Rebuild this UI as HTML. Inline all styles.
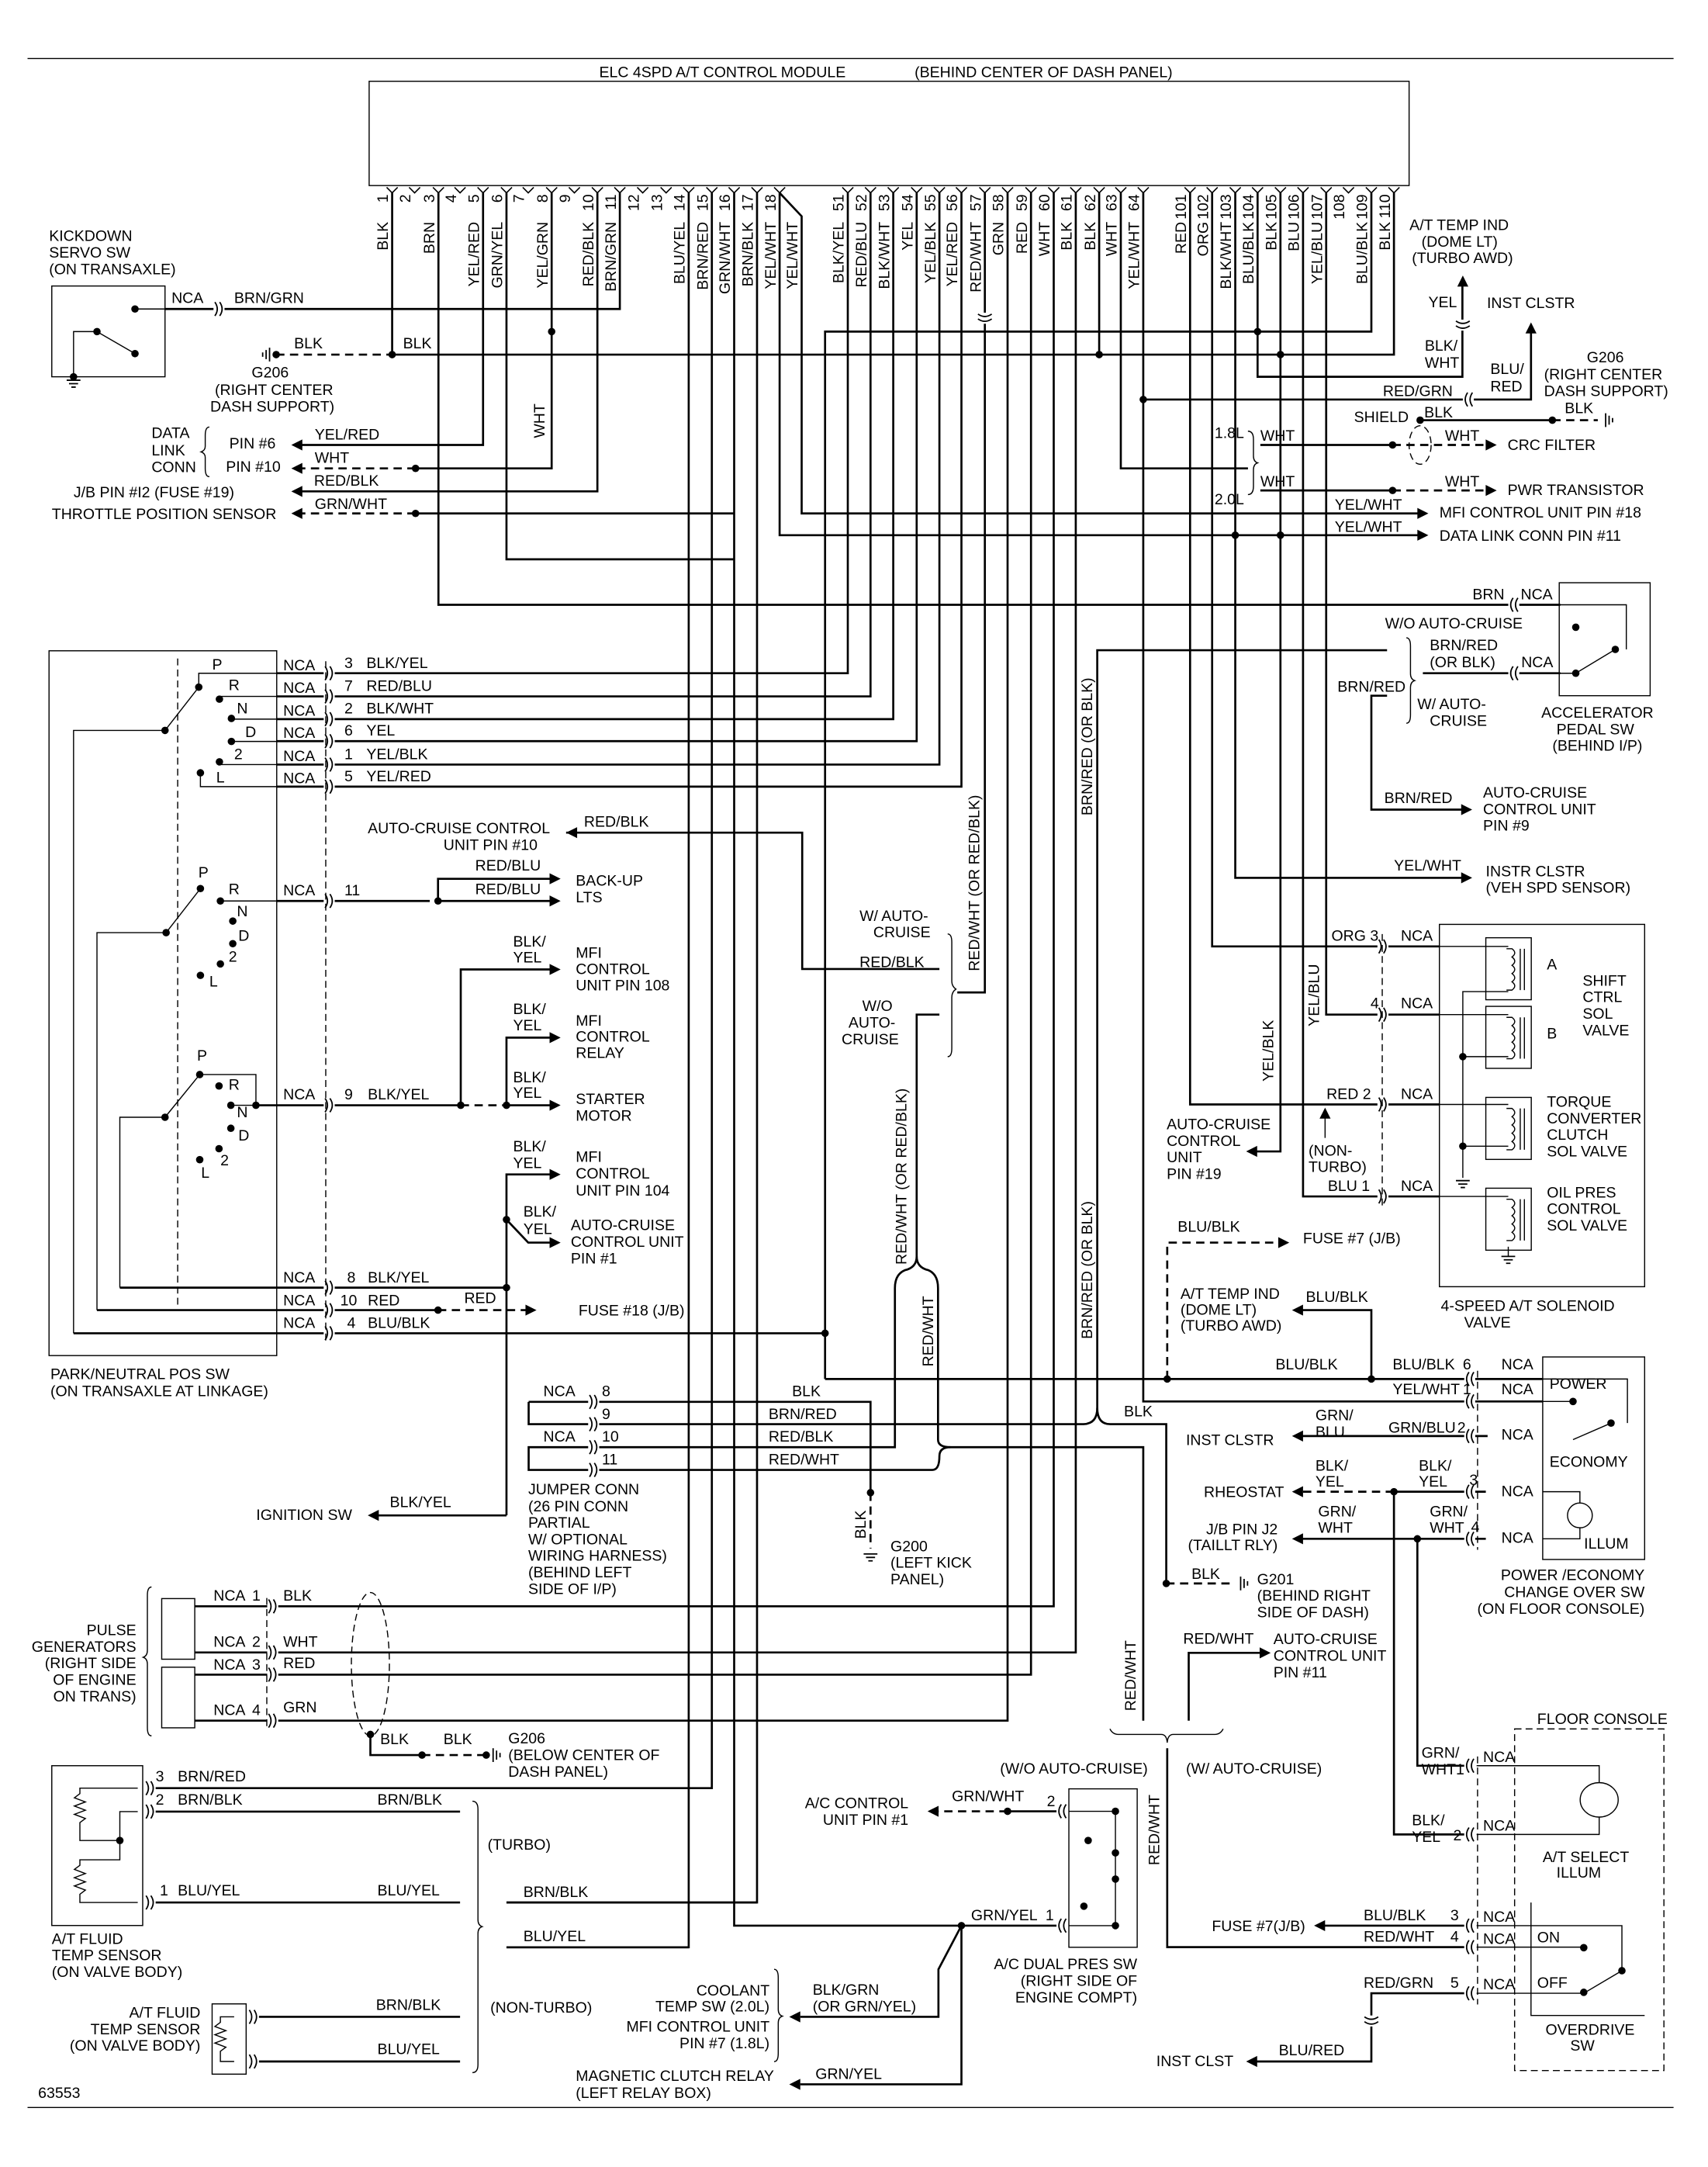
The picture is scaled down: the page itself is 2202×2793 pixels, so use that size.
<!DOCTYPE html>
<html><head><meta charset="utf-8"><style>
html,body{margin:0;padding:0;background:#fff}
svg{display:block}
text{font-family:"Liberation Sans Narrow","Liberation Sans",sans-serif;font-size:11px;fill:#000}
.w{fill:none;stroke:#000;stroke-width:1.5}
.t{fill:none;stroke:#000;stroke-width:0.8}
.d{fill:none;stroke:#000;stroke-width:1.5;stroke-dasharray:6,4}
.dt{fill:none;stroke:#000;stroke-width:0.8;stroke-dasharray:5,3}
.e{text-anchor:end}
</style></head><body>
<svg width="2202" height="2793" viewBox="0 0 1240 1573" preserveAspectRatio="none" xmlns="http://www.w3.org/2000/svg">
<defs>
<g id="cr"><rect x="-1" y="-2" width="8" height="4" fill="#fff"/><path d="M0,-5 q3.5,5 0,10 M3.5,-5 q3.5,5 0,10" fill="none" stroke="#000" stroke-width="1"/></g>
<g id="cl"><rect x="-1" y="-2" width="8" height="4" fill="#fff"/><path d="M6,-5 q-3.5,5 0,10 M2.5,-5 q-3.5,5 0,10" fill="none" stroke="#000" stroke-width="1"/></g>
<g id="cv"><rect x="-2" y="-1" width="4" height="8" fill="#fff"/><path d="M-5,0 q5,3.5 10,0 M-5,3.5 q5,3.5 10,0" fill="none" stroke="#000" stroke-width="1"/></g>
<path id="pv" d="M-4,136 l4,4 l4,-4" fill="none" stroke="#000" stroke-width="0.9"/>
<path id="al" d="M0,0 l8,-4 v8z"/>
<path id="ar" d="M0,0 l-8,-4 v8z"/>
<path id="au" d="M0,0 l-4,8 h8z"/>
<circle id="o" r="2.7"/>
<path id="gd" d="M-5,0 h10 M-3.3,2.5 h6.6 M-1.6,5 h3.2" stroke="#000" stroke-width="1" fill="none"/>
<path id="gs" d="M0,-5 v10 M2.5,-3.3 v6.6 M5,-1.6 v3.2" stroke="#000" stroke-width="1" fill="none"/>
<path id="gsl" d="M0,-5 v10 M-2.5,-3.3 v6.6 M-5,-1.6 v3.2" stroke="#000" stroke-width="1" fill="none"/>
<g id="coil"><rect x="0" y="0" width="33" height="45" class="t"/><path d="M15,8 h4 q4,3 0,6 q4,3 0,6 q4,3 0,6 q4,3 0,6 q4,3 0,6 h-4 M25,8 v30 M28,8 v30" class="t"/></g>
</defs>

<path d="M20,42.5 H1215 M20,1529.8 H1215" class="t"/>
<text x="435" y="56">ELC 4SPD A/T CONTROL MODULE</text>
<text x="664" y="56">(BEHIND CENTER OF DASH PANEL)</text>
<rect x="268" y="59" width="755" height="75.7" class="t"/>

<g>
<use href="#pv" x="284.7"/><use href="#pv" x="301"/><use href="#pv" x="318.3"/><use href="#pv" x="334"/><use href="#pv" x="350.7"/><use href="#pv" x="367.7"/><use href="#pv" x="383.5"/><use href="#pv" x="400.5"/><use href="#pv" x="417"/><use href="#pv" x="433.7"/><use href="#pv" x="450"/><use href="#pv" x="466.6"/><use href="#pv" x="483.6"/><use href="#pv" x="500"/><use href="#pv" x="516.8"/><use href="#pv" x="533"/><use href="#pv" x="549.6"/><use href="#pv" x="566"/>
<use href="#pv" x="615.5"/><use href="#pv" x="632"/><use href="#pv" x="648.5"/><use href="#pv" x="665.5"/><use href="#pv" x="682"/><use href="#pv" x="698"/><use href="#pv" x="715"/><use href="#pv" x="731.5"/><use href="#pv" x="748.5"/><use href="#pv" x="765"/><use href="#pv" x="781"/><use href="#pv" x="798"/><use href="#pv" x="813.7"/><use href="#pv" x="830"/>
<use href="#pv" x="864"/><use href="#pv" x="880"/><use href="#pv" x="896.8"/><use href="#pv" x="913"/><use href="#pv" x="929.6"/><use href="#pv" x="946"/><use href="#pv" x="962.8"/><use href="#pv" x="979"/><use href="#pv" x="995.6"/><use href="#pv" x="1012"/>
</g>
<g class="e">
<text transform="translate(281.7,141) rotate(-90)">1</text><text transform="translate(298,141) rotate(-90)">2</text><text transform="translate(315.3,141) rotate(-90)">3</text><text transform="translate(331,141) rotate(-90)">4</text><text transform="translate(347.7,141) rotate(-90)">5</text><text transform="translate(364.7,141) rotate(-90)">6</text><text transform="translate(380.5,141) rotate(-90)">7</text><text transform="translate(397.5,141) rotate(-90)">8</text><text transform="translate(414,141) rotate(-90)">9</text><text transform="translate(430.7,141) rotate(-90)">10</text><text transform="translate(447,141) rotate(-90)">11</text><text transform="translate(463.6,141) rotate(-90)">12</text><text transform="translate(480.6,141) rotate(-90)">13</text><text transform="translate(497,141) rotate(-90)">14</text><text transform="translate(513.8,141) rotate(-90)">15</text><text transform="translate(530,141) rotate(-90)">16</text><text transform="translate(546.6,141) rotate(-90)">17</text><text transform="translate(563,141) rotate(-90)">18</text>
<text transform="translate(612.5,141) rotate(-90)">51</text><text transform="translate(629,141) rotate(-90)">52</text><text transform="translate(645.5,141) rotate(-90)">53</text><text transform="translate(662.5,141) rotate(-90)">54</text><text transform="translate(679,141) rotate(-90)">55</text><text transform="translate(695,141) rotate(-90)">56</text><text transform="translate(712,141) rotate(-90)">57</text><text transform="translate(728.5,141) rotate(-90)">58</text><text transform="translate(745.5,141) rotate(-90)">59</text><text transform="translate(762,141) rotate(-90)">60</text><text transform="translate(778,141) rotate(-90)">61</text><text transform="translate(795,141) rotate(-90)">62</text><text transform="translate(810.7,141) rotate(-90)">63</text><text transform="translate(827,141) rotate(-90)">64</text>
<text transform="translate(861,141) rotate(-90)">101</text><text transform="translate(877,141) rotate(-90)">102</text><text transform="translate(893.8,141) rotate(-90)">103</text><text transform="translate(910,141) rotate(-90)">104</text><text transform="translate(926.6,141) rotate(-90)">105</text><text transform="translate(943,141) rotate(-90)">106</text><text transform="translate(959.8,141) rotate(-90)">107</text><text transform="translate(976,141) rotate(-90)">108</text><text transform="translate(992.6,141) rotate(-90)">109</text><text transform="translate(1009,141) rotate(-90)">110</text>
<text transform="translate(281.7,161) rotate(-90)">BLK</text><text transform="translate(315.3,161) rotate(-90)">BRN</text><text transform="translate(347.7,161) rotate(-90)">YEL/RED</text><text transform="translate(364.7,161) rotate(-90)">GRN/YEL</text><text transform="translate(397.5,161) rotate(-90)">YEL/GRN</text><text transform="translate(430.7,161) rotate(-90)">RED/BLK</text><text transform="translate(447,161) rotate(-90)">BRN/GRN</text>
<text transform="translate(497,161) rotate(-90)">BLU/YEL</text><text transform="translate(513.8,161) rotate(-90)">BRN/RED</text><text transform="translate(530,161) rotate(-90)">GRN/WHT</text><text transform="translate(546.6,161) rotate(-90)">BRN/BLK</text><text transform="translate(563,161) rotate(-90)">YEL/WHT</text><text transform="translate(579,161) rotate(-90)">YEL/WHT</text>
<text transform="translate(612.5,161) rotate(-90)">BLK/YEL</text><text transform="translate(629,161) rotate(-90)">RED/BLU</text><text transform="translate(645.5,161) rotate(-90)">BLK/WHT</text><text transform="translate(662.5,161) rotate(-90)">YEL</text><text transform="translate(679,161) rotate(-90)">YEL/BLK</text><text transform="translate(695,161) rotate(-90)">YEL/RED</text><text transform="translate(712,161) rotate(-90)">RED/WHT</text><text transform="translate(728.5,161) rotate(-90)">GRN</text><text transform="translate(745.5,161) rotate(-90)">RED</text><text transform="translate(762,161) rotate(-90)">WHT</text><text transform="translate(778,161) rotate(-90)">BLK</text><text transform="translate(795,161) rotate(-90)">BLK</text><text transform="translate(810.7,161) rotate(-90)">WHT</text><text transform="translate(827,161) rotate(-90)">YEL/WHT</text>
<text transform="translate(861,161) rotate(-90)">RED</text><text transform="translate(877,161) rotate(-90)">ORG</text><text transform="translate(893.8,161) rotate(-90)">BLK/WHT</text><text transform="translate(910,161) rotate(-90)">BLU/BLK</text><text transform="translate(926.6,161) rotate(-90)">BLK</text><text transform="translate(943,161) rotate(-90)">BLU</text><text transform="translate(959.8,161) rotate(-90)">YEL/BLU</text><text transform="translate(992.6,161) rotate(-90)">BLU/BLK</text><text transform="translate(1009,161) rotate(-90)">BLK</text>
</g>

<g class="w">
<path d="M284.7,140 V257.4"/>
<path d="M318.3,140 V439 H1132.8"/>
<path d="M350.7,140 V323 H217"/>
<path d="M367.7,140 V406 H533"/>
<path d="M400.5,140 V340 H301.7"/>
<path d="M433.7,140 V356.7 H217"/>
<path d="M450,140 V224.3 H119.8"/>
<path d="M284.7,257.4 H1012 V140"/>
<path d="M599,1001 V240.7 H995.6 V140"/>
<path d="M500,140 V1413.5 H367.7"/>
<path d="M516.8,140 V1298 H108"/>
<path d="M533,140 V1397.8 H772"/>
<path d="M533,372.7 H301.7"/>
<path d="M549.6,140 V1381 H367.7"/>
<path d="M566,140 V388.5 H1030"/>
<path d="M566,140 L582,157 V372.7 H1030"/>
<path d="M599,1001 H1120"/>
<path d="M200.9,488.7 H615.5 V140"/>
<path d="M200.9,505.5 H632 V140"/>
<path d="M200.9,522 H648.5 V140"/>
<path d="M200.9,538 H665.5 V140"/>
<path d="M200.9,555 H682 V140"/>
<path d="M200.9,571 H698 V140"/>
<path d="M715,140 V720.4 H695"/>
<path d="M411,604.4 H582.4 V703.4 H682"/>
<path d="M682,736.5 H665.5 V912 Q665.5,920 657,922 Q649.7,925 649.7,935 V1050.5 H383.8 V1067 H677 Q682,1067 682,1057 Q682,1050.5 690,1050.5 H830 V1249"/>
<path d="M665.5,912 Q665.5,920 674,922 Q681,925 681,935 V1045 Q681,1050.5 690,1050.5"/>
<path d="M383.8,1017.6 H632 V1083.5"/>
<path d="M383.8,1017.6 V1033.8 H786 Q796.6,1033.8 796.6,1022 V472 H1007"/>
<path d="M796.6,1022 Q796.6,1033.8 806,1033.8 H846.7 V1149.4"/>
<path d="M1007,505 H995.6 V587.7 H1062"/>
<path d="M1033,488.7 H1132.8"/>
<path d="M813.7,140 V340 H906"/>
<path d="M915,323 H1011"/><path d="M915,356 H1011"/>
<path d="M1031,305 H1127"/>
<path d="M830,140 V1017.3 H1120"/>
<path d="M830,290 H1111.5 V240"/>
<path d="M913,140 V273.5 H1061.7 V206"/>
<path d="M864,140 V801.7 H1045"/>
<path d="M880,140 V687 H1045"/>
<path d="M896.8,140 V637.2 H1062"/>
<path d="M929.6,140 V835.8 H911"/>
<path d="M946,140 V868.5 H1045"/>
<path d="M962.8,140 V736.5 H1045"/>
<path d="M731.5,140 V1249 H141.5"/>
<path d="M748.5,140 V1215.6 H141.5"/>
<path d="M765,140 V1166 H141.5"/>
<path d="M781,140 V1199.5 H141.5"/>
<path d="M798,140 V257.4"/>
<path d="M995.6,1001 V951 H945"/>
<path d="M1080,1042.4 H945"/>
<path d="M1078.7,1082.8 H1012 V1331.6 H1068"/>
<path d="M1078.7,1117 H945"/>
<path d="M1029,1117 V1281.7 H1068"/>
<path d="M1068,1397.8 H961"/>
<path d="M847.4,1269 V1413.4 H1068"/>
<path d="M863,1249 V1199.8 H915"/>
<path d="M1066.8,1446.9 H995.6 V1496.4 H912"/>
<path d="M200.9,654 H312"/><path d="M318,654 H400"/><path d="M318,654 V637.9 H400"/>
<path d="M185.8,802.3 H334.5"/><path d="M367.7,802.3 H400"/>
<path d="M334.5,802.3 V703.7 H400"/>
<path d="M367.7,802.3 V753.2 H400"/>
<path d="M367.7,1100 H274"/><path d="M367.7,1100 V852.5 H400"/>
<path d="M367.7,885.3 L383.5,902 H400"/>
<path d="M87,934.7 H367.7"/>
<path d="M70.4,951 H318"/>
<path d="M53.4,967.8 H599"/>
<path d="M108,1315 H334"/><path d="M108,1381 H334"/>
<path d="M367.7,1381 H549.6"/><path d="M367.7,1413.5 H500"/>
<path d="M184,1464 H334"/><path d="M184,1496.4 H334"/>
<path d="M698,1397.8 V1513 H581"/>
<path d="M698,1397.8 L681.3,1429.5 V1464 H581"/>
<path d="M268.9,1259 V1274 H306.4"/>
</g>

<g class="d">
<path d="M200.5,257.4 H284.7"/>
<path d="M301.7,340 H217"/>
<path d="M301.7,372.7 H217"/>
<path d="M1011,323 H1080"/><path d="M1011,356 H1080"/>
<path d="M1127,305 H1160"/>
<path d="M632,1083.5 V1124"/>
<path d="M846.7,1149.4 H896"/>
<path d="M847.4,1001 V902 H929"/>
<path d="M1012,1082.8 H945"/>
<path d="M731.5,1314.8 H680"/>
<path d="M318,951 H382"/>
<path d="M334.5,802.3 H367.7"/>
<path d="M306.4,1274 H353"/>
</g>
<path d="M772,1314.8 H731.5" class="w"/>

<g>
<use href="#o" x="200.5" y="257.4"/><use href="#o" x="284.7" y="257.4"/><use href="#o" x="400.5" y="240.7"/><use href="#o" x="301.7" y="340"/><use href="#o" x="301.7" y="372.7"/>
<use href="#o" x="798" y="257.4"/><use href="#o" x="929.6" y="257.4"/><use href="#o" x="913" y="240.7"/><use href="#o" x="830" y="290"/>
<use href="#o" x="896.8" y="388.5"/><use href="#o" x="929.6" y="388.5"/>
<use href="#o" x="1011" y="323"/><use href="#o" x="1011" y="356"/><use href="#o" x="1031" y="305"/><use href="#o" x="1127" y="305"/>
<use href="#o" x="599" y="967.8"/><use href="#o" x="318" y="654"/><use href="#o" x="334.5" y="802.3"/><use href="#o" x="367.7" y="802.3"/><use href="#o" x="367.7" y="885.3"/><use href="#o" x="367.7" y="934.7"/><use href="#o" x="318" y="951"/><use href="#o" x="185.8" y="802.3"/>
<use href="#o" x="632" y="1083.5"/><use href="#o" x="846.7" y="1149.4"/><use href="#o" x="847.4" y="1001"/><use href="#o" x="995.6" y="1001"/>
<use href="#o" x="1012" y="1082.8"/><use href="#o" x="1029" y="1117"/>
<use href="#o" x="268.9" y="1259"/><use href="#o" x="306.4" y="1274"/><use href="#o" x="353" y="1274"/>
<use href="#o" x="731.5" y="1314.8"/><use href="#o" x="698" y="1397.8"/><use href="#o" x="87" y="1336"/>
<use href="#o" x="1062" y="767"/><use href="#o" x="1062" y="832"/>
</g>

<g>
<use href="#al" x="211.5" y="323"/><use href="#al" x="211.5" y="340"/><use href="#al" x="211.5" y="356.7"/><use href="#al" x="211.5" y="372.7"/>
<use href="#ar" x="1037" y="372.7"/><use href="#ar" x="1037" y="388.5"/>
<use href="#ar" x="1086.6" y="323"/><use href="#ar" x="1086.6" y="356"/>
<use href="#au" x="1062" y="200"/><use href="#au" x="1111.5" y="234"/>
<use href="#ar" x="1068.8" y="587.7"/><use href="#ar" x="1068.8" y="637.2"/>
<use href="#al" x="904.7" y="835.8"/><use href="#ar" x="936" y="902"/><use href="#al" x="938" y="951"/>
<use href="#al" x="938" y="1042.4"/><use href="#al" x="938" y="1082.8"/><use href="#al" x="938" y="1117"/>
<use href="#ar" x="922.5" y="1199.8"/><use href="#al" x="954" y="1397.8"/><use href="#al" x="904.7" y="1496.4"/>
<use href="#al" x="411" y="604.4"/><use href="#ar" x="407" y="637.9"/><use href="#ar" x="407" y="654"/>
<use href="#ar" x="407" y="703.7"/><use href="#ar" x="407" y="753.2"/><use href="#ar" x="407" y="802.3"/><use href="#ar" x="407" y="852.5"/><use href="#ar" x="407" y="902"/><use href="#ar" x="389.5" y="951"/>
<use href="#al" x="267" y="1100"/><use href="#al" x="673.4" y="1314.8"/><use href="#al" x="573" y="1464"/><use href="#al" x="573" y="1513"/>
</g>

<use href="#gsl" x="195.7" y="257.4"/><use href="#gs" x="1165.7" y="305"/><use href="#gd" x="632" y="1128"/><use href="#gs" x="900.7" y="1149.4"/><use href="#gs" x="358" y="1274"/>
<use href="#gd" x="53.4" y="276"/><use href="#gd" x="1062" y="857"/><use href="#gd" x="1095" y="912"/>

<g>
<use href="#cr" x="156" y="224.3"/><use href="#cv" x="1062" y="233"/><use href="#cl" x="1063" y="290"/><use href="#cv" x="715" y="228"/>
<use href="#cl" x="1096" y="439"/><use href="#cl" x="1096" y="488.7"/>
<use href="#cr" x="236" y="488.7"/><use href="#cr" x="236" y="505.5"/><use href="#cr" x="236" y="522"/><use href="#cr" x="236" y="538"/><use href="#cr" x="236" y="555"/><use href="#cr" x="236" y="571"/><use href="#cr" x="236" y="654"/><use href="#cr" x="236" y="802.3"/><use href="#cr" x="236" y="934.7"/><use href="#cr" x="236" y="951"/><use href="#cr" x="236" y="967.8"/>
<use href="#cr" x="428" y="1017.6"/><use href="#cr" x="428" y="1033.8"/><use href="#cr" x="428" y="1050.5"/><use href="#cr" x="428" y="1067"/>
<use href="#cr" x="1001" y="687"/><use href="#cr" x="1001" y="736.5"/><use href="#cr" x="1001" y="801.7"/><use href="#cr" x="1001" y="868.5"/>
<use href="#cl" x="1064" y="1001"/><use href="#cl" x="1064" y="1017.3"/><use href="#cl" x="1064" y="1042.4"/><use href="#cl" x="1064" y="1082.8"/><use href="#cl" x="1064" y="1117"/>
<use href="#cl" x="1064" y="1281.7"/><use href="#cl" x="1064" y="1331.6"/><use href="#cl" x="1064" y="1397.8"/><use href="#cl" x="1064" y="1413.4"/><use href="#cl" x="1064" y="1446.9"/>
<use href="#cv" x="995.6" y="1464"/>
<use href="#cr" x="195" y="1166"/><use href="#cr" x="195" y="1199.5"/><use href="#cr" x="195" y="1215.6"/><use href="#cr" x="195" y="1249"/>
<use href="#cr" x="106" y="1298"/><use href="#cr" x="106" y="1315"/><use href="#cr" x="106" y="1381"/><use href="#cr" x="181" y="1464"/><use href="#cr" x="181" y="1496.4"/>
<use href="#cl" x="768" y="1314.8"/><use href="#cl" x="768" y="1397.8"/>
</g>
<g class="dt">
<path d="M236.5,480 V975"/><path d="M129,478 V950"/>
<path d="M1003.5,678 V875"/><path d="M1072.7,995 V1125"/><path d="M1072.7,1275 V1455"/>
<path d="M193.7,1160 V1256"/>
<ellipse cx="1031" cy="323" rx="8" ry="14"/>
<ellipse cx="268.9" cy="1208" rx="13.8" ry="52"/>
<rect x="1099.6" y="1255" width="108.4" height="248"/>
</g>

<g class="t">
<path d="M152,310 q-3,0 -3,6 v8 q0,3 -3,4 q3,1 3,4 v8 q0,6 3,6"/>
<path d="M906,313 q4,0 4,6 v12 q0,4 3,5 q-3,1 -3,5 v12 q0,6 -4,6"/>
<path d="M1021,463 q3,0 3,6 v20 q0,4 3,5 q-3,1 -3,5 v20 q0,6 -3,6"/>
<path d="M688,678 q3,0 3,6 v28 q0,4 3,6 q-3,2 -3,6 v37 q0,6 -3,6"/>
<path d="M110,1152 q-3,0 -3,6 v40 q0,4 -3,5 q3,1 3,5 v46 q0,6 3,6"/>
<path d="M343,1307.5 q4,0 4,6 v80 q0,4 3,5 q-3,1 -3,5 v95 q0,6 -4,6"/>
<path d="M562,1429.5 q3,0 3,6 v23 q0,4 3,5 q-3,1 -3,5 v22 q0,6 -3,6"/>
<path d="M805.8,1255 q2,4 6,4 H843 q4,0 4.4,6 q0.4,-6 4.4,-6 H882 q4,0 6,-4"/>
<path d="M1302,680 q3,0 3,6 v28 q0,4 3,5 q-3,1 -3,5 v28 q0,6 -3,6"/>
</g>

<g class="t">
<rect x="37.6" y="207.6" width="82.2" height="65.9"/>
<rect x="35.6" y="472.4" width="165.3" height="511.6"/>
<rect x="1132" y="423" width="66" height="82"/>
<rect x="1045" y="671" width="149" height="263"/>
<rect x="1120" y="985" width="74" height="147"/>
<rect x="117.4" y="1160.4" width="24" height="44"/>
<rect x="117.4" y="1210.2" width="24" height="44"/>
<rect x="37.6" y="1281.7" width="66" height="116"/>
<rect x="154" y="1454.6" width="24.7" height="51"/>
<rect x="776" y="1298.5" width="49.6" height="115"/>
</g>
<use href="#coil" x="1078.7" y="680.7"/><use href="#coil" x="1078.7" y="730.5"/><use href="#coil" x="1078.7" y="796.6"/><use href="#coil" x="1078.7" y="862.5"/>
<g class="t">
<path d="M119.8,224.3 H98 M53.4,273.5 V240.7 H70.4 L98,256.7"/>
<path d="M1045,687 H1095 M1045,736.5 H1095 M1045,801.7 H1095 M1045,868.5 H1095 M1095,719.8 H1062 V855 M1062,767 H1095 M1062,832 H1095 M1095,905 V912"/>
<path d="M1132,439 H1180.7 V471.4 M1132,488.7 H1144 L1172.7,471.4"/>
<path d="M144.3,498.8 V488.7 H200.9 M159.3,507.5 V505.5 H200.9 M168,521.5 V522 H200.9 M168,538.2 H200.9 M159.3,553 V555 H200.9 M145.5,561 V571 H200.9 M119.8,530.2 L144.3,498.8 M119.8,530.2 H53.4 V967.8"/>
<path d="M160,654 H200.9 M120.6,677 L145.5,645 M120.6,677 H70.4 V951"/>
<path d="M145,780 H185.8 V802.3 M167.6,802.3 H185.8 M185.8,802.3 H200.9 M119.8,811 L145,780 M119.8,811 H87 V934.7"/>
<path d="M1120,1001 H1181.5 V1033 M1120,1017.3 H1142 M1142,1045 L1169.6,1033 M1120,1082.8 H1147 V1091 M1120,1117 H1147 V1109"/>
<path d="M1072,1281.7 H1161 V1294 M1072,1331.6 H1161 V1319 M1072,1397.8 H1177.5 V1430.5 M1072,1413.4 H1149.8 M1072,1446.9 H1149.8 L1177.5,1430.5 M1111.5,1381 V1463 H1194"/>
<path d="M776,1314.8 H809.8 V1397.8 H776"/>
<path d="M100,1298 H58 V1302 l-4,3 8,3 -8,3 8,3 -8,3 8,3 -4,3 V1336 H87 V1315 H100 M87,1336 V1350 H58 V1354 l-4,3 8,3 -8,3 8,3 -8,3 8,3 -4,3 V1381 H100"/>
<path d="M170,1464 H160 V1468 l-4,3 8,3 -8,3 8,3 -8,3 8,3 -4,3 V1496.4 H170"/>
</g>
<g>
<use href="#o" x="98" y="224.3"/><use href="#o" x="70.4" y="240.7"/><use href="#o" x="98" y="256.7"/><use href="#o" x="53.4" y="273.5"/>
<use href="#o" x="1144" y="455.3"/><use href="#o" x="1172.7" y="471.4"/><use href="#o" x="1144" y="488.7"/>
<use href="#o" x="144.3" y="498.8"/><use href="#o" x="159.3" y="507.5"/><use href="#o" x="168" y="521.5"/><use href="#o" x="168" y="538.2"/><use href="#o" x="159.3" y="553"/><use href="#o" x="145.5" y="561"/><use href="#o" x="119.8" y="530.2"/>
<use href="#o" x="145.5" y="645"/><use href="#o" x="160" y="654"/><use href="#o" x="169" y="668.6"/><use href="#o" x="169" y="685"/><use href="#o" x="160" y="699.7"/><use href="#o" x="145.5" y="708"/><use href="#o" x="120.6" y="677"/>
<use href="#o" x="145" y="780"/><use href="#o" x="159" y="788.3"/><use href="#o" x="167.6" y="802.3"/><use href="#o" x="167.6" y="819"/><use href="#o" x="159" y="833.8"/><use href="#o" x="145" y="841.8"/><use href="#o" x="119.8" y="811"/>
<use href="#o" x="1142" y="1017.3"/><use href="#o" x="1169.6" y="1033"/>
<use href="#o" x="1149.8" y="1413.8"/><use href="#o" x="1149.8" y="1446.2"/><use href="#o" x="1177.5" y="1430.5"/>
<use href="#o" x="809.8" y="1314.8"/><use href="#o" x="809.8" y="1345"/><use href="#o" x="809.8" y="1364"/><use href="#o" x="809.8" y="1397.8"/><use href="#o" x="790" y="1336"/><use href="#o" x="786.9" y="1383.7"/>
</g>
<ellipse cx="1147" cy="1100" rx="9" ry="9" class="t"/><ellipse cx="1161" cy="1306.5" rx="13.8" ry="12.5" class="t"/>

<text x="35.6" y="175">KICKDOWN</text><text x="35.6" y="187">SERVO SW</text><text x="35.6" y="199">(ON TRANSAXLE)</text>
<text x="124.5" y="220">NCA</text><text x="170" y="220">BRN/GRN</text>
<text x="213.5" y="253">BLK</text><text x="292.6" y="253">BLK</text>
<text x="182.7" y="274">G206</text><text x="156" y="286.8">(RIGHT CENTER</text><text x="152.6" y="298.8">DASH SUPPORT)</text>
<text x="110" y="318">DATA</text><text x="110" y="330.6">LINK</text><text x="110" y="342.6">CONN</text>
<text x="166.5" y="325.6">PIN  #6</text><text x="164" y="342.3">PIN #10</text>
<text x="228.5" y="319">YEL/RED</text><text x="228.5" y="336">WHT</text><text x="228" y="352.7">RED/BLK</text><text x="228.5" y="369.4">GRN/WHT</text>
<text x="53.4" y="361">J/B PIN #I2 (FUSE #19)</text><text x="37.6" y="376.7">THROTTLE POSITION SENSOR</text>
<text transform="translate(395.4,318) rotate(-90)">WHT</text>

<text x="1023.3" y="167">A/T TEMP IND</text><text x="1032" y="179">(DOME LT)</text><text x="1025" y="191">(TURBO AWD)</text>
<text x="1037" y="223">YEL</text><text x="1079.5" y="223.6">INST CLSTR</text>
<text x="1034.4" y="254.7">BLK/</text><text x="1034.4" y="267">WHT</text>
<text x="1082" y="271.4">BLU/</text><text x="1082" y="284">RED</text>
<text x="1152" y="263">G206</text><text x="1121" y="275.5">(RIGHT CENTER</text><text x="1121" y="287.5">DASH SUPPORT)</text>
<text x="1004" y="287.5">RED/GRN</text>
<text x="983" y="306.5">SHIELD</text><text x="1034" y="303">BLK</text><text x="1136" y="300">BLK</text>
<text x="881.8" y="318">1.8L</text><text x="915" y="320">WHT</text><text x="1049" y="320">WHT</text><text x="1094.5" y="326.6">CRC FILTER</text>
<text x="881.8" y="366">2.0L</text><text x="915" y="353">WHT</text><text x="1049" y="353">WHT</text><text x="1094.5" y="359.4">PWR TRANSISTOR</text>
<text x="969" y="370">YEL/WHT</text><text x="1045" y="375.7">MFI CONTROL UNIT PIN #18</text>
<text x="969" y="386">YEL/WHT</text><text x="1045" y="392.5">DATA LINK CONN PIN #11</text>
<text x="1069" y="435">BRN</text><text x="1104" y="435">NCA</text>
<text x="1005.5" y="456.3">W/O AUTO-CRUISE</text>
<text x="1038" y="472">BRN/RED</text><text x="1038" y="484.4">(OR BLK)</text><text x="1104.4" y="484.4">NCA</text>
<text x="971" y="502">BRN/RED</text>
<text x="1029" y="514.8">W/ AUTO-</text><text x="1038" y="526.8">CRUISE</text>
<text x="1119" y="521">ACCELERATOR</text><text x="1130" y="533">PEDAL SW</text><text x="1127" y="545">(BEHIND I/P)</text>
<text x="1005" y="583">BRN/RED</text><text x="1076.7" y="579">AUTO-CRUISE</text><text x="1076.7" y="591">CONTROL UNIT</text><text x="1076.7" y="603">PIN #9</text>
<text x="1012" y="632">YEL/WHT</text><text x="1078.7" y="636">INSTR CLSTR</text><text x="1078.7" y="648">(VEH SPD SENSOR)</text>

<text x="966.6" y="683">ORG 3</text><text x="1017" y="683">NCA</text>
<text x="995" y="732">4</text><text x="1017" y="732">NCA</text>
<text x="963" y="797.7">RED  2</text><text x="1017" y="797.7">NCA</text>
<text x="964" y="864.5">BLU   1</text><text x="1017" y="864.5">NCA</text>
<text x="1123" y="703.7">A</text><text x="1123" y="753.9">B</text>
<text x="1149" y="715.4">SHIFT</text><text x="1149" y="727.4">CTRL</text><text x="1149" y="739.5">SOL</text><text x="1149" y="751.5">VALVE</text>
<text x="1123" y="803.3">TORQUE</text><text x="1123" y="815.4">CONVERTER</text><text x="1123" y="827.4">CLUTCH</text><text x="1123" y="839.4">SOL VALVE</text>
<text x="1123" y="869.2">OIL PRES</text><text x="1123" y="881.2">CONTROL</text><text x="1123" y="893.2">SOL VALVE</text>
<text x="1046" y="951.4">4-SPEED A/T SOLENOID</text><text x="1063" y="963.5">VALVE</text>
<text transform="translate(957.5,745) rotate(-90)">YEL/BLU</text>
<text transform="translate(924.5,785) rotate(-90)">YEL/BLK</text>
<text x="847" y="819.7">AUTO-CRUISE</text><text x="847" y="831.7">CONTROL</text><text x="847" y="843.8">UNIT</text><text x="847" y="855.8">PIN #19</text>
<text x="950" y="839">(NON-</text><text x="950" y="850.8">TURBO)</text>
<path d="M962,826 V808" class="t"/><use href="#au" x="962" y="804"/>

<text x="267" y="605">AUTO-CRUISE CONTROL</text><text x="322" y="617">UNIT PIN #10</text><text x="424" y="600">RED/BLK</text>
<text x="345" y="632">RED/BLU</text><text x="345" y="649">RED/BLU</text><text x="418" y="643">BACK-UP</text><text x="418" y="655">LTS</text>
<text x="372.5" y="687">BLK/</text><text x="372.5" y="698.7">YEL</text><text x="418" y="695.4">MFI</text><text x="418" y="707">CONTROL</text><text x="418" y="719">UNIT PIN 108</text>
<text x="372.5" y="736">BLK/</text><text x="372.5" y="748">YEL</text><text x="418" y="744.5">MFI</text><text x="418" y="756">CONTROL</text><text x="418" y="768">RELAY</text>
<text x="372.5" y="785.6">BLK/</text><text x="372.5" y="797">YEL</text><text x="418" y="801.3">STARTER</text><text x="418" y="813.4">MOTOR</text>
<text x="372.5" y="835.7">BLK/</text><text x="372.5" y="848">YEL</text><text x="418" y="843.5">MFI</text><text x="418" y="855.5">CONTROL</text><text x="418" y="868">UNIT PIN 104</text>
<text x="380" y="883">BLK/</text><text x="380" y="895.9">YEL</text><text x="414.4" y="893">AUTO-CRUISE</text><text x="414.4" y="905">CONTROL UNIT</text><text x="414.4" y="917.3">PIN #1</text>
<text x="420" y="955">FUSE #18 (J/B)</text><text x="337" y="946">RED</text>
<text x="624" y="668.6">W/ AUTO-</text><text x="634" y="680.3">CRUISE</text><text x="624" y="702">RED/BLK</text>
<text x="626" y="733.8">W/O</text><text x="616" y="746">AUTO-</text><text x="611" y="758.2">CRUISE</text>
<text transform="translate(711,705) rotate(-90)">RED/WHT (OR RED/BLK)</text>
<text transform="translate(658,918) rotate(-90)">RED/WHT (OR RED/BLK)</text>
<text transform="translate(677.5,992) rotate(-90)">RED/WHT</text>
<text transform="translate(793,592) rotate(-90)">BRN/RED (OR BLK)</text>
<text transform="translate(793,972) rotate(-90)">BRN/RED (OR BLK)</text>
<text transform="translate(824.5,1242) rotate(-90)">RED/WHT</text>
<text transform="translate(841.5,1354) rotate(-90)">RED/WHT</text>
<text transform="translate(628.5,1117) rotate(-90)">BLK</text>

<text x="154" y="486">P</text><text x="166" y="501">R</text><text x="172" y="518">N</text><text x="178" y="535">D</text><text x="170" y="551">2</text><text x="157" y="568">L</text>
<text x="144" y="637">P</text><text x="166" y="649">R</text><text x="172" y="665">N</text><text x="173" y="683">D</text><text x="166" y="698">2</text><text x="152" y="716">L</text>
<text x="143" y="770">P</text><text x="166" y="791">R</text><text x="172" y="811">N</text><text x="173" y="828">D</text><text x="160" y="846">2</text><text x="146" y="855">L</text>
<g>
<text x="205.6" y="486.5">NCA</text><text x="250" y="485">3</text><text x="266" y="485">BLK/YEL</text>
<text x="205.6" y="503">NCA</text><text x="250" y="501.5">7</text><text x="266" y="501.5">RED/BLU</text>
<text x="205.6" y="519.5">NCA</text><text x="250" y="518">2</text><text x="266" y="518">BLK/WHT</text>
<text x="205.6" y="535.5">NCA</text><text x="250" y="534">6</text><text x="266" y="534">YEL</text>
<text x="205.6" y="552.5">NCA</text><text x="250" y="551">1</text><text x="266" y="551">YEL/BLK</text>
<text x="205.6" y="568.5">NCA</text><text x="250" y="567">5</text><text x="266" y="567">YEL/RED</text>
<text x="205.6" y="650">NCA</text><text x="250" y="650">11</text>
<text x="205.6" y="798">NCA</text><text x="250" y="798">9</text><text x="267" y="798">BLK/YEL</text>
<text x="205.6" y="931">NCA</text><text x="252" y="931">8</text><text x="267" y="931">BLK/YEL</text>
<text x="205.6" y="947.5">NCA</text><text x="247" y="947.5">10</text><text x="267" y="947.5">RED</text>
<text x="205.6" y="964">NCA</text><text x="252" y="964">4</text><text x="267" y="964">BLU/BLK</text>
</g>
<text x="36.6" y="1001">PARK/NEUTRAL POS SW</text><text x="36.6" y="1013.6">(ON TRANSAXLE AT LINKAGE)</text>

<text x="394.5" y="1013.6">NCA</text><text x="437" y="1013.6">8</text><text x="575" y="1013.6">BLK</text>
<text x="437" y="1030">9</text><text x="558" y="1030">BRN/RED</text>
<text x="394.5" y="1046.5">NCA</text><text x="437" y="1046.5">10</text><text x="558" y="1046.5">RED/BLK</text>
<text x="437" y="1063">11</text><text x="558" y="1063">RED/WHT</text>
<text x="383.5" y="1084.8">JUMPER CONN</text><text x="383.5" y="1097">(26 PIN CONN</text><text x="383.5" y="1109">PARTIAL</text><text x="383.5" y="1121">W/ OPTIONAL</text><text x="383.5" y="1133">WIRING HARNESS)</text><text x="383.5" y="1145">(BEHIND LEFT</text><text x="383.5" y="1157">SIDE OF I/P)</text>
<text x="186" y="1103.2">IGNITION SW</text><text x="283" y="1094">BLK/YEL</text>
<text x="646.5" y="1126">G200</text><text x="646.5" y="1138">(LEFT KICK</text><text x="646.5" y="1150">PANEL)</text>

<text x="855" y="894">BLU/BLK</text><text x="946" y="902.6">FUSE #7 (J/B)</text>
<text x="857" y="942.7">A/T TEMP IND</text><text x="857" y="954.4">(DOME LT)</text><text x="857" y="966">(TURBO AWD)</text><text x="948" y="945">BLU/BLK</text>
<text x="926" y="994">BLU/BLK</text><text x="1011" y="994">BLU/BLK</text><text x="1062" y="994">6</text><text x="1090" y="994">NCA</text>
<text x="1011" y="1012">YEL/WHT</text><text x="1062" y="1012">1</text><text x="1090" y="1012">NCA</text>
<text x="1125" y="1008">POWER</text>
<text x="816" y="1028">BLK</text>
<text x="955" y="1031">GRN/</text><text x="955" y="1043">BLU</text><text x="1008" y="1040">GRN/BLU</text><text x="1058" y="1040">2</text><text x="1090" y="1045">NCA</text>
<text x="861" y="1049">INST CLSTR</text>
<text x="1125" y="1064.8">ECONOMY</text>
<text x="874" y="1086.8">RHEOSTAT</text><text x="955" y="1067.4">BLK/</text><text x="955" y="1079.1">YEL</text><text x="1030" y="1067.4">BLK/</text><text x="1030" y="1079.1">YEL</text><text x="1066.8" y="1078">3</text><text x="1090" y="1086">NCA</text>
<text x="927.6" y="1113.6" class="e">J/B PIN J2</text><text x="927.6" y="1125.3" class="e">(TAILLT RLY)</text><text x="957" y="1100.9">GRN/</text><text x="957" y="1112.6">WHT</text><text x="1038" y="1100.9">GRN/</text><text x="1038" y="1112.6">WHT</text><text x="1068" y="1112">4</text><text x="1090" y="1120">NCA</text>
<text x="1150" y="1124">ILLUM</text>
<text x="1194" y="1147" class="e">POWER /ECONOMY</text><text x="1194" y="1159.4" class="e">CHANGE OVER SW</text><text x="1194" y="1171.4" class="e">(ON FLOOR CONSOLE)</text>
<text x="865" y="1146">BLK</text><text x="912.6" y="1150">G201</text><text x="912.6" y="1162">(BEHIND RIGHT</text><text x="912.6" y="1174">SIDE OF DASH)</text>
<text x="859" y="1193">RED/WHT</text><text x="924.5" y="1193.5">AUTO-CRUISE</text><text x="924.5" y="1205.5">CONTROL UNIT</text><text x="924.5" y="1217.6">PIN #11</text>
<text x="1116" y="1251.3">FLOOR CONSOLE</text>
<text x="726" y="1287.4">(W/O AUTO-CRUISE)</text><text x="861" y="1287.4">(W/ AUTO-CRUISE)</text>
<text x="1032" y="1276">GRN/</text><text x="1032" y="1288">WHT</text><text x="1057" y="1288">1</text><text x="1076.7" y="1279">NCA</text>
<text x="1025" y="1325">BLK/</text><text x="1025" y="1337">YEL</text><text x="1055" y="1336">2</text><text x="1076.7" y="1329">NCA</text>
<text x="1120" y="1351.6">A/T SELECT</text><text x="1130" y="1363">ILLUM</text>
<text x="990" y="1393.8">BLU/BLK</text><text x="1053" y="1393.8">3</text><text x="1076.7" y="1395">NCA</text><text x="879.8" y="1401.8">FUSE #7(J/B)</text>
<text x="990" y="1409.4">RED/WHT</text><text x="1053" y="1409.4">4</text><text x="1076.7" y="1411">NCA</text><text x="1116" y="1410">ON</text>
<text x="990" y="1442.9">RED/GRN</text><text x="1053" y="1442.9">5</text><text x="1076.7" y="1444">NCA</text><text x="1116" y="1443">OFF</text>
<text x="1122" y="1477">OVERDRIVE</text><text x="1140" y="1488.6">SW</text>
<text x="928.4" y="1492">BLU/RED</text><text x="839.5" y="1499.7">INST  CLST</text>

<text x="691" y="1307.5">GRN/WHT</text><text x="760" y="1311">2</text>
<text x="659.5" y="1312.5" class="e">A/C CONTROL</text><text x="659.5" y="1324.5" class="e">UNIT PIN #1</text>
<text x="705" y="1393.8">GRN/YEL</text><text x="759" y="1393.8">1</text>
<text x="825.6" y="1429.5" class="e">A/C DUAL PRES SW</text><text x="825.6" y="1441.5" class="e">(RIGHT SIDE OF</text><text x="825.6" y="1453.5" class="e">ENGINE COMPT)</text>
<text x="590" y="1448">BLK/GRN</text><text x="590" y="1460">(OR GRN/YEL)</text>
<text x="558.7" y="1448.5" class="e">COOLANT</text><text x="558.7" y="1460.2" class="e">TEMP SW (2.0L)</text><text x="558.7" y="1474.6" class="e">MFI CONTROL UNIT</text><text x="558.7" y="1486.7" class="e">PIN #7 (1.8L)</text>
<text x="592" y="1509">GRN/YEL</text>
<text x="418" y="1510.4">MAGNETIC CLUTCH RELAY</text><text x="418" y="1523">(LEFT RELAY BOX)</text>

<text x="98.9" y="1186.8" class="e">PULSE</text><text x="98.9" y="1199" class="e">GENERATORS</text><text x="98.9" y="1211" class="e">(RIGHT SIDE</text><text x="98.9" y="1223" class="e">OF ENGINE</text><text x="98.9" y="1235" class="e">ON TRANS)</text>
<text x="155" y="1162">NCA</text><text x="183" y="1162">1</text><text x="205.6" y="1162">BLK</text>
<text x="155" y="1195.5">NCA</text><text x="183" y="1195.5">2</text><text x="205.6" y="1195.5">WHT</text>
<text x="155" y="1212">NCA</text><text x="183" y="1212">3</text><text x="205.6" y="1211">RED</text>
<text x="155" y="1245">NCA</text><text x="183" y="1245">4</text><text x="205.6" y="1243">GRN</text>
<text x="276" y="1266">BLK</text><text x="322" y="1266">BLK</text>
<text x="369" y="1265.4">G206</text><text x="369" y="1277.7">(BELOW CENTER OF</text><text x="369" y="1289.7">DASH PANEL)</text>
<text x="113" y="1293">3</text><text x="129" y="1293">BRN/RED</text>
<text x="113" y="1310">2</text><text x="129" y="1310">BRN/BLK</text><text x="274" y="1310">BRN/BLK</text>
<text x="116" y="1376">1</text><text x="129" y="1376">BLU/YEL</text><text x="274" y="1376">BLU/YEL</text>
<text x="354" y="1342.6">(TURBO)</text>
<text x="380" y="1377">BRN/BLK</text><text x="380" y="1409">BLU/YEL</text>
<text x="37.6" y="1411">A/T FLUID</text><text x="37.6" y="1423">TEMP SENSOR</text><text x="37.6" y="1435">(ON VALVE BODY)</text>
<text x="145.5" y="1464.6" class="e">A/T FLUID</text><text x="145.5" y="1476.6" class="e">TEMP SENSOR</text><text x="145.5" y="1488.6" class="e">(ON VALVE BODY)</text>
<text x="273" y="1459">BRN/BLK</text><text x="274" y="1491">BLU/YEL</text>
<text x="356" y="1461">(NON-TURBO)</text>
<text x="27.7" y="1522.8">63553</text>
</svg>
</body></html>
